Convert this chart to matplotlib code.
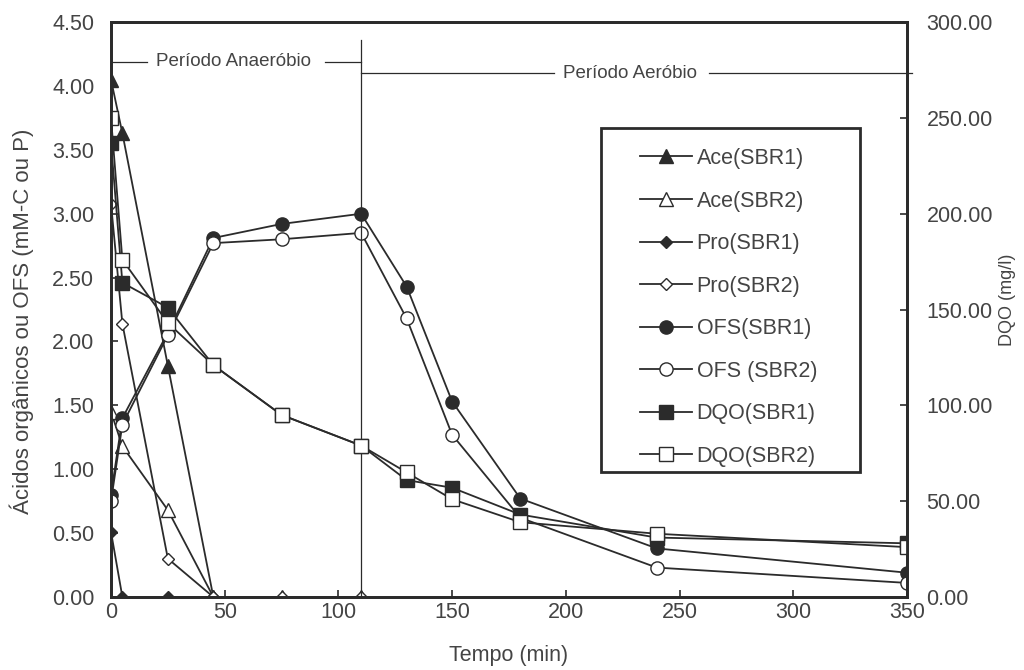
import matplotlib
matplotlib.use('Agg')
import matplotlib.pyplot as plt
from matplotlib.patches import Rectangle
from matplotlib.ticker import FormatStrFormatter

plt.rcParams['font.family'] = ['Liberation Sans', 'DejaVu Sans']

# tempo (min)
t_ace1 = [0, 5, 25, 45]
ace1 = [4.05, 3.63, 1.81, 0.0]
t_ace2 = [0, 5, 25, 45, 75, 110]
ace2 = [1.45, 1.18, 0.68, 0.0, 0.0, 0.0]
t_pro1 = [0, 5, 25, 45]
pro1 = [0.51, 0.0, 0.0, 0.0]
t_pro2 = [0, 5, 25, 45, 75, 110]
pro2 = [3.08, 2.14, 0.30, 0.0, 0.0, 0.0]

t_long = [0, 5, 25, 45, 75, 110, 130, 150, 180, 240, 350]
ofs1 = [0.80, 1.40, 2.07, 2.81, 2.92, 3.00, 2.43, 1.53, 0.77, 0.38, 0.19]
ofs2 = [0.75, 1.35, 2.05, 2.77, 2.80, 2.85, 2.18, 1.27, 0.62, 0.23, 0.11]
dqo1 = [237, 164, 151, 121, 95, 79, 61, 57, 43, 31, 28]
dqo2 = [250, 176, 143, 121, 95, 79, 65, 51, 39, 33, 26]

c = '#2b2b2b'
tc = '#444444'

fig = plt.figure(figsize=(10.24, 6.7), dpi=100)
ax = fig.add_axes([0.1084, 0.109, 0.7773, 0.858])
ax2 = ax.twinx()

lw = 1.3
h1, = ax.plot(t_ace1, ace1, color=c, lw=lw, marker='^', ms=9.5, mfc=c, mec=c, label='Ace(SBR1)')
h2, = ax.plot(t_ace2, ace2, color=c, lw=lw, marker='^', ms=9.5, mfc='white', mec=c, label='Ace(SBR2)')
h3, = ax.plot(t_pro1, pro1, color=c, lw=lw, marker='D', ms=6.5, mfc=c, mec=c, label='Pro(SBR1)')
h4, = ax.plot(t_pro2, pro2, color=c, lw=lw, marker='D', ms=6.5, mfc='white', mec=c, label='Pro(SBR2)')
h5, = ax.plot(t_long, ofs1, color=c, lw=lw, marker='o', ms=9.5, mfc=c, mec=c, label='OFS(SBR1)')
h6, = ax.plot(t_long, ofs2, color=c, lw=lw, marker='o', ms=9.5, mfc='white', mec=c, label='OFS (SBR2)')
h7, = ax2.plot(t_long, dqo1, color=c, lw=lw, marker='s', ms=10.5, mfc=c, mec=c, label='DQO(SBR1)')
h8, = ax2.plot(t_long, dqo2, color=c, lw=lw, marker='s', ms=10.5, mfc='white', mec=c, label='DQO(SBR2)')

ax.set_xlim(0, 350)
ax.set_ylim(0, 4.5)
ax2.set_ylim(0, 300)
ax.set_xticks(range(0, 351, 50))
ax.set_yticks([i * 0.5 for i in range(10)])
ax2.set_yticks(range(0, 301, 50))
ax.yaxis.set_major_formatter(FormatStrFormatter('%.2f'))
ax2.yaxis.set_major_formatter(FormatStrFormatter('%.2f'))

for a in (ax, ax2):
    a.tick_params(direction='in', length=5, width=1.2, colors=c, labelcolor=tc, labelsize=15.5)
    for s in a.spines.values():
        s.set_linewidth(2)
        s.set_color(c)
ax.tick_params(axis='x', pad=3.5)
ax.tick_params(axis='y', pad=12)
ax2.tick_params(axis='y', pad=14)

ax.set_xlabel('Tempo (min)', fontsize=15.5, color=tc)
ax.xaxis.set_label_coords(0.5, -0.083)
ax.set_ylabel('Ácidos orgânicos ou OFS (mM-C ou P)', fontsize=16, color=tc)
ax.yaxis.set_label_coords(-0.097, 0.48)
ax2.set_ylabel('DQO (mg/l)', fontsize=13, color=tc)
ax2.yaxis.set_label_coords(1.116, 0.517)

# periodos
ax.plot([110, 110], [4.36, 0], color=c, lw=0.9, clip_on=False)
ax.plot([0, 16], [4.19, 4.19], color=c, lw=0.9)
ax.plot([94, 110], [4.19, 4.19], color=c, lw=0.9)
ax.text(54, 4.19, 'Período Anaeróbio', fontsize=13.5, color=tc, ha='center', va='center')
ax.plot([110, 195], [4.10, 4.10], color=c, lw=0.9)
ax.plot([263, 352], [4.10, 4.10], color=c, lw=0.9, clip_on=False)
ax.text(228, 4.10, 'Período Aeróbio', fontsize=13.5, color=tc, ha='center', va='center')

# legenda com caixa desenhada a parte
ax2.add_patch(Rectangle((0.6156, 0.2174), 0.3254, 0.5983, transform=ax2.transAxes,
                        fill=True, facecolor='white', edgecolor=c, lw=2, zorder=4))
leg = ax2.legend(handles=[h1, h2, h3, h4, h5, h6, h7, h8], loc='upper left',
                 bbox_to_anchor=(0.664, 0.781), fontsize=15.5, frameon=False,
                 labelspacing=1.0, handlelength=2.45, handletextpad=0.2,
                 borderpad=0, borderaxespad=0)
leg.set_zorder(5)
for txt in leg.get_texts():
    txt.set_color(tc)

fig.savefig('out.png', dpi=100)
